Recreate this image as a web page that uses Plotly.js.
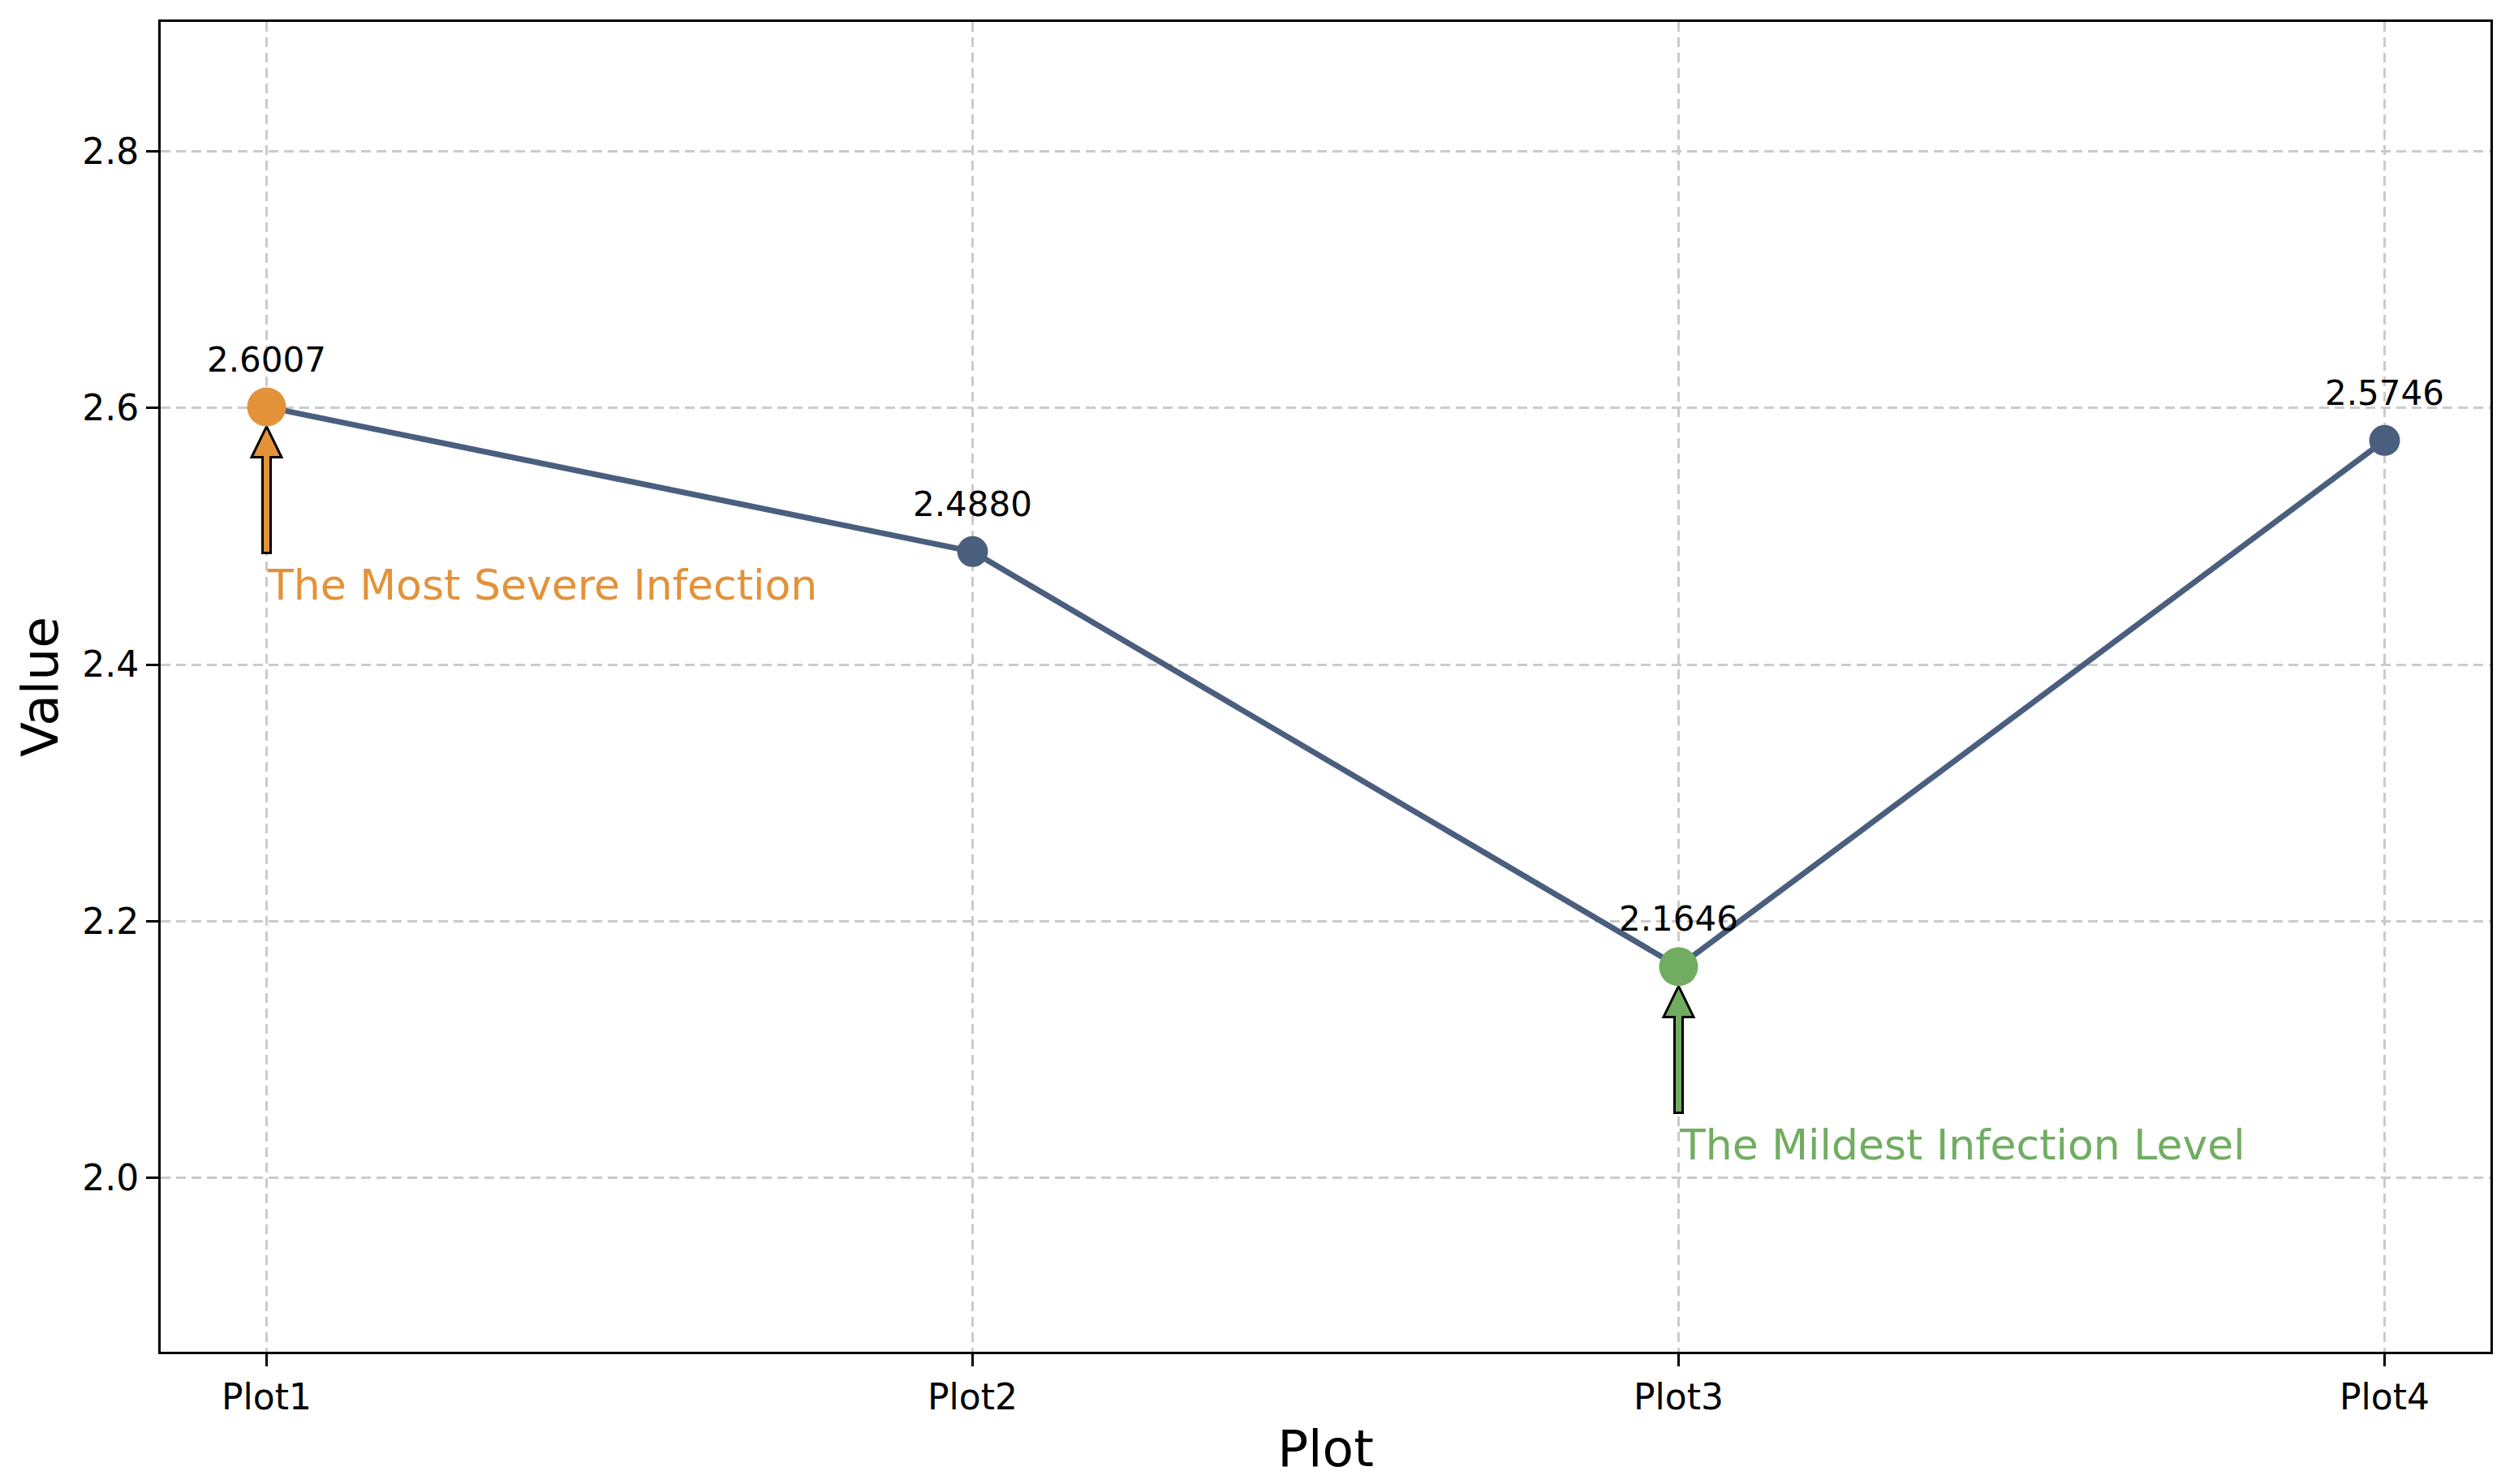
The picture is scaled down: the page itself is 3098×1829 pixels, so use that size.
<!DOCTYPE html>
<html>
<head>
<meta charset="utf-8">
<script src="https://cdn.plot.ly/plotly-3.0.1.min.js"></script>
<style>html,body{margin:0;padding:0;background:#fff;}#chart{width:3098px;height:1829px;}</style>
</head>
<body>
<div id="chart"></div>
<script>
// ---- data ----
const categories = ["Plot1", "Plot2", "Plot3", "Plot4"];
const values = [2.6007, 2.4880, 2.1646, 2.5746];
const yTicks = [2.0, 2.2, 2.4, 2.6, 2.8];
const maxNote = "The Most Severe Infection";
const minNote = "The Mildest Infection Level";

// ---- styles ----
const FONT = "DejaVu Sans";
const LINE_COLOR = "#4a5e7e";
const MAX_COLOR = "#e3923a";
const MIN_COLOR = "#70ad61";

const idx = categories.map((c, i) => i);
const iMax = values.indexOf(Math.max(...values));
const iMin = values.indexOf(Math.min(...values));
const markerColors = values.map((v, i) => i === iMax ? MAX_COLOR : (i === iMin ? MIN_COLOR : LINE_COLOR));
const markerSizes = values.map((v, i) => (i === iMax || i === iMin) ? 48 : 38);

const trace = {
  x: idx, y: values, type: "scatter", mode: "lines+markers",
  line: {color: LINE_COLOR, width: 7},
  marker: {color: markerColors, size: markerSizes, opacity: 1, line: {width: 0}},
  hoverinfo: "skip", showlegend: false
};

const annotations = values.map((v, i) => ({
  x: i, y: v, xref: "x", yref: "y", text: v.toFixed(4), showarrow: false,
  xanchor: "center", yanchor: "bottom", yshift: 32,
  font: {family: FONT, size: 42, color: "#000"}
}));
annotations.push({
  x: iMax, y: values[iMax] - 0.15, xref: "x", yref: "y", text: maxNote, showarrow: false,
  xanchor: "left", yanchor: "bottom", yshift: -14, xshift: -2,
  font: {family: FONT, size: 52, color: MAX_COLOR}
});
annotations.push({
  x: iMin, y: values[iMin] - 0.15, xref: "x", yref: "y", text: minNote, showarrow: false,
  xanchor: "left", yanchor: "bottom", yshift: -14, xshift: -2,
  font: {family: FONT, size: 52, color: MIN_COLOR}
});

function arrowShape(i, color) {
  return {
    type: "path", xref: "x", yref: "y", xsizemode: "pixel", ysizemode: "pixel",
    xanchor: i, yanchor: values[i],
    path: "M 0 -24 L 18.5 -62 L 5 -62 L 5 -180 L -5 -180 L -5 -62 L -18.5 -62 Z",
    fillcolor: color, line: {color: "#000", width: 3}, layer: "between"
  };
}
const shapes = [arrowShape(iMax, MAX_COLOR), arrowShape(iMin, MIN_COLOR)];

const axisCommon = {
  showline: true, linecolor: "#000", linewidth: 3, mirror: true,
  ticks: "outside", ticklen: 15, tickwidth: 3, tickcolor: "#000",
  showgrid: true, gridcolor: "#cbcbcb", gridwidth: 3, griddash: "12px,7px",
  zeroline: false, automargin: false,
  tickfont: {family: FONT, size: 44, color: "#000"}
};

const layout = {
  width: 3098, height: 1829,
  margin: {l: 198, r: 29, t: 27, b: 163},
  paper_bgcolor: "#fff", plot_bgcolor: "#fff",
  font: {family: FONT, color: "#000"},
  xaxis: Object.assign({}, axisCommon, {
    type: "linear", range: [-0.15, 3.15], tickvals: idx, ticktext: categories,
    title: {text: "Plot", font: {family: FONT, size: 63, color: "#000"}, standoff: 18}
  }),
  yaxis: Object.assign({}, axisCommon, {
    range: [Math.min(...values) - 0.3, Math.max(...values) + 0.3], tickvals: yTicks,
    ticktext: yTicks.map(t => t.toFixed(1)),
    title: {text: "Value", font: {family: FONT, size: 63, color: "#000"}, standoff: 10}
  }),
  annotations: annotations, shapes: shapes
};

Plotly.newPlot("chart", [trace], layout, {staticPlot: true, displayModeBar: false});
</script>
</body>
</html>
